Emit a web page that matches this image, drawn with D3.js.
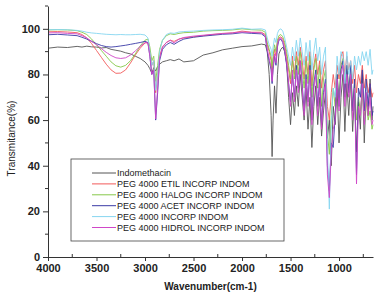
<!DOCTYPE html>
<html>
<head>
<meta charset="utf-8">
<script src="https://cdn.jsdelivr.net/npm/d3@7"></script>
<style>
  body { margin: 0; background: #fff; }
  text { font-family: "Liberation Sans", Arial, sans-serif; fill: #222; }
  .line { fill: none; stroke-width: 0.9; }
  .axis path, .axis line { stroke: #333; }
</style>
</head>
<body>
<div id="wrapper"></div>
<script>
// 1. Data

const wavenumbers = [
  4000, 3900, 3800, 3700, 3650, 3600, 3550, 3500, 3450, 3400, 3350, 3300, 3250, 3200, 3150, 3100, 3050, 3000,
  2970, 2950, 2930, 2910, 2890, 2870, 2850, 2820, 2780, 2740, 2700, 2650, 2600, 2500, 2400, 2300, 2200, 2100,
  2000, 1900, 1800, 1760, 1740, 1720, 1700, 1690, 1680, 1665, 1650, 1635, 1620, 1600, 1580, 1560, 1540, 1520, 1500,
  1480, 1460, 1440, 1420, 1400, 1380, 1360, 1340, 1320, 1300, 1280, 1260, 1240, 1220, 1200, 1180, 1160, 1140,
  1120, 1100, 1080, 1060, 1040, 1020, 1000, 980, 960, 940, 920, 900, 880, 860, 840, 820, 800, 780, 760, 740,
  720, 700, 680, 660, 650
]

const indomethacin = [
  91.5, 92, 91.8, 92.3, 92, 92.4, 92.1, 92, 91.6, 91.8, 91, 90.6, 90.2, 89.5, 89, 88, 87, 85.5,
  84, 82.5, 80.5, 83, 81.5, 83.5, 84.5, 85.5, 86, 86.5, 86, 86.8, 85.5, 86, 88.5, 89.5, 90.8, 91.5,
  92.2, 92.5, 93.3, 93, 90, 80, 62, 44, 60, 75, 63, 80, 89, 91, 92, 90, 85, 70, 58,
  72, 62, 75, 66, 80, 70, 60, 74, 56, 70, 48, 66, 75, 58, 70, 53, 64, 72,
  52, 60, 40, 66, 58, 74, 50, 70, 80, 55, 76, 62, 78, 55, 72, 46, 68, 56, 80, 50,
  72, 62, 78, 60, 66
]

const pegEtil = [
  98.7, 98.8, 98.6, 98.3, 97.5, 96, 93.5, 90.5, 87.5, 84.5, 82, 80.5, 80.6, 82, 85, 88.5, 91.5, 93.8,
  94, 90, 84, 86, 72, 80, 88, 92, 94, 95, 94.5, 95.5, 96, 96.5, 97, 97.5, 98, 98.2,
  99, 98.5, 98.5, 97.5, 93, 90, 86, 80, 86, 91, 88, 94, 96, 96.5, 95.5, 93, 88, 82, 76,
  88, 80, 90, 84, 92, 86, 78, 88, 80, 90, 75, 84, 89, 80, 86, 74, 82, 86,
  66, 60, 72, 80, 74, 84, 78, 88, 90, 80, 88, 82, 86, 76, 84, 72, 80, 76, 84, 74,
  80, 72, 76, 70, 72
]

const pegHalog = [
  99.5, 99.6, 99.5, 99.2, 98.5, 97.5, 95.5, 93, 90.5, 88, 85.5, 83.8, 83.2, 84, 86, 89, 92.5, 95,
  95.5, 92, 86, 88, 77, 84, 91, 95, 97, 97.8, 97.5, 98, 98.3, 98.5, 99, 99.2, 99.3, 99.5,
  100, 99.6, 99.4, 98.5, 94, 91, 88, 83, 88, 93, 90, 95, 97, 97.5, 96.5, 94, 90, 84, 78,
  86, 78, 88, 80, 90, 82, 74, 86, 76, 88, 70, 82, 87, 74, 84, 66, 78, 82,
  55, 45, 62, 74, 66, 80, 70, 84, 87, 72, 84, 74, 80, 66, 76, 60, 70, 64, 72, 62,
  68, 60, 64, 56, 58
]

const pegAcet = [
  97.4, 97.6, 97.3, 97, 96.3, 95.5, 94.5, 93.5, 92.7, 92.2, 92, 92.2, 92.5, 92.8, 93.2, 93.6, 94, 94.5,
  94, 88, 80, 82, 60, 72, 86, 91, 93, 94, 93.2, 94.5, 95.5, 96.3, 96.8, 97.2, 97.6, 97.8,
  98.3, 98, 97.8, 96.5, 90, 86, 82, 76, 82, 88, 84, 92, 95, 95.5, 94, 90, 84, 76, 68,
  80, 70, 84, 74, 86, 76, 64, 80, 68, 84, 60, 76, 82, 66, 78, 58, 72, 78,
  40, 29, 50, 48, 62, 80, 66, 82, 86, 70, 84, 72, 84, 64, 78, 36, 74, 70, 82, 64,
  78, 66, 76, 62, 64
]

const pegIncorp = [
  99.6, 99.7, 99.6, 99.3, 99, 98.5, 98.2, 98, 97.8, 97.6, 97.5, 97.4, 97.5, 97.4, 97.4, 97.5, 97.6, 97.3,
  96, 90, 84, 86, 73, 80, 90, 95, 97.5, 98.2, 98, 98.6, 98.8, 99, 99.3, 99.5, 99.6, 99.8,
  100.3, 99.8, 100, 99.5, 96, 93, 91, 88, 92, 96, 94, 98, 99.5, 100, 99, 96, 92, 88, 84,
  92, 86, 95, 88, 96, 90, 84, 94, 86, 95, 82, 90, 96, 86, 92, 80, 88, 92,
  48, 21, 58, 74, 70, 88, 80, 90, 88, 76, 90, 80, 86, 78, 88, 82, 88, 84, 90, 86,
  90, 84, 91, 80, 82
]

const pegHidrol = [
  98.2, 98.3, 98, 97.8, 97, 96, 94.5, 93, 91.3, 89.7, 88.3, 87.3, 87, 87.3, 88.5, 90.3, 92.3, 94,
  93.8, 88, 80, 82, 60.5, 74, 87, 92, 94, 95, 93.8, 95.5, 96.2, 96.8, 97.2, 97.6, 97.9, 98.2,
  98.6, 98.4, 98.2, 97, 91, 87, 83, 77, 83, 89, 85, 93, 95.5, 96, 94.5, 91, 85, 76, 66,
  82, 68, 82, 72, 86, 74, 62, 78, 66, 82, 58, 74, 80, 62, 76, 56, 70, 76,
  36, 26, 46, 56, 60, 78, 64, 80, 84, 66, 80, 70, 80, 60, 74, 32, 66, 62, 76, 58,
  72, 62, 70, 58, 60
]

const seriesNames = [
  "Indomethacin",
  "PEG 4000 ETIL INCORP INDOM",
  "PEG 4000 HALOG INCORP INDOM",
  "PEG 4000 ACET INCORP INDOM",
  "PEG 4000 INCORP INDOM",
  "PEG 4000 HIDROL INCORP INDOM",
]
const seriesColors = ["#555555", "#f25a5a", "#86c84a", "#3a3aa6", "#86d6f0", "#d047c8"]
const seriesValues = [indomethacin, pegEtil, pegHalog, pegAcet, pegIncorp, pegHidrol]

const xTicks = [4000, 3500, 3000, 2500, 2000, 1500, 1000]
const xMinorTicks = [3750, 3250, 2750, 2250, 1750, 1250, 750]
const yTicks = [0, 20, 40, 60, 80, 100]
const yMinorTicks = [10, 30, 50, 70, 90, 110]

// 2. Dimensions

let dimensions = {
  width: 385,
  height: 296,
  margin: {
    top: 6,
    right: 12,
    bottom: 39,
    left: 48,
  },
}
dimensions.boundedWidth = dimensions.width - dimensions.margin.left - dimensions.margin.right
dimensions.boundedHeight = dimensions.height - dimensions.margin.top - dimensions.margin.bottom

// 3. Canvas

const wrapper = d3.select("#wrapper")
  .append("svg")
    .attr("width", dimensions.width)
    .attr("height", dimensions.height)

const bounds = wrapper.append("g")
    .attr("transform", `translate(${dimensions.margin.left}, ${dimensions.margin.top})`)

// 4. Scales

const xScale = d3.scaleLinear()
  .domain([4000, 650])
  .range([0, dimensions.boundedWidth])

const yScale = d3.scaleLinear()
  .domain([0, 110])
  .range([dimensions.boundedHeight, 0])

// 5. Lines

const lineGenerator = d3.line()
  .x((d, i) => xScale(wavenumbers[i]))
  .y(d => yScale(d))

bounds.selectAll(".line")
  .data(seriesValues)
  .enter().append("path")
    .attr("class", "line")
    .attr("stroke", (d, i) => seriesColors[i])
    .attr("d", d => lineGenerator(d))

// 6. Axes

const yAxis = bounds.append("g")
    .attr("class", "axis")
  .call(d3.axisLeft(yScale).tickValues(yTicks).tickSize(5).tickPadding(3).tickSizeOuter(0))
yAxis.selectAll("text").style("font-size", "11px").style("font-weight", "bold")
yAxis.selectAll(".minor")
  .data(yMinorTicks)
  .enter().append("line")
    .attr("x1", -3).attr("x2", 0)
    .attr("y1", d => yScale(d)).attr("y2", d => yScale(d))

const xAxis = bounds.append("g")
    .attr("class", "axis")
    .attr("transform", `translate(0, ${dimensions.boundedHeight})`)
  .call(d3.axisBottom(xScale).tickValues(xTicks).tickFormat(d3.format("d")).tickSize(4).tickPadding(3).tickSizeOuter(0))
xAxis.selectAll("text").style("font-size", "11px").style("font-weight", "bold")
xAxis.selectAll(".minor")
  .data(xMinorTicks)
  .enter().append("line")
    .attr("x1", d => xScale(d)).attr("x2", d => xScale(d))
    .attr("y1", -3).attr("y2", 0)

bounds.append("text")
    .attr("x", dimensions.boundedWidth / 2)
    .attr("y", dimensions.boundedHeight + 33)
    .attr("text-anchor", "middle")
    .style("font-size", "10px")
    .style("font-weight", "bold")
    .text("Wavenumber(cm-1)")

bounds.append("text")
    .attr("transform", `translate(${-33}, ${dimensions.boundedHeight / 2 + 7}) rotate(-90)`)
    .attr("text-anchor", "middle")
    .style("font-size", "10px")
    .text("Transmitance(%)")

// 7. Legend

const legend = wrapper.append("g")
    .attr("transform", "translate(71, 159)")

legend.append("rect")
    .attr("width", 213)
    .attr("height", 82)
    .attr("fill", "#fff")
    .attr("stroke", "#444")
    .attr("stroke-width", 0.8)

const legendItems = legend.selectAll(".item")
  .data(seriesNames)
  .enter().append("g")
    .attr("transform", (d, i) => `translate(0, ${14 + i * 10.9})`)

legendItems.append("line")
    .attr("x1", 21).attr("x2", 45)
    .attr("stroke", (d, i) => seriesColors[i])
    .attr("stroke-width", 1)

legendItems.append("text")
    .attr("x", 46)
    .attr("dy", "0.35em")
    .style("font-size", "9px")
    .text(d => d)
</script>
</body>
</html>
